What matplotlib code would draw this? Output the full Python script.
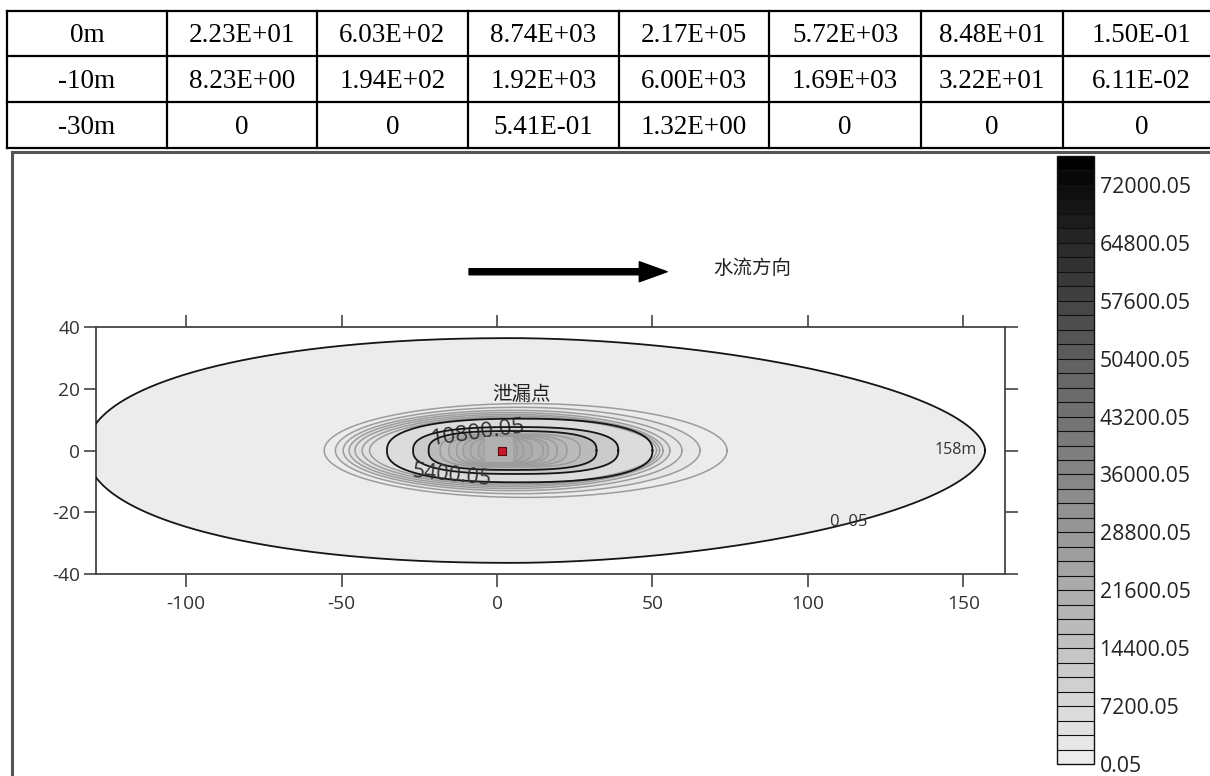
import numpy as np
import matplotlib
matplotlib.use('Agg')
import matplotlib.pyplot as plt
from matplotlib.colors import LinearSegmentedColormap, BoundaryNorm
from matplotlib.lines import Line2D
from matplotlib.patches import FancyArrowPatch, Rectangle
import matplotlib.cm as cm

plt.rcParams['axes.unicode_minus'] = False

# ---------------- table data ----------------
depth_labels = ['0m', '-10m', '-30m']
row_0m = ['2.23E+01', '6.03E+02', '8.74E+03', '2.17E+05', '5.72E+03', '8.48E+01', '1.50E-01']
row_10m = ['8.23E+00', '1.94E+02', '1.92E+03', '6.00E+03', '1.69E+03', '3.22E+01', '6.11E-02']
row_30m = ['0', '0', '5.41E-01', '1.32E+00', '0', '0', '0']

# ---------------- contour rings (outermost -> innermost), metres ----------------
ring_levels = [0.05, 1350.05, 2250.05, 3150.05, 3600.05, 4050.05, 4500.05, 4950.05,
               5400.05, 10800.05, 16200.05, 17100.05, 18000.05, 18900.05, 19800.05,
               20700.05, 21600.05, 22500.05, 23400.05]
ring_left = [-132, -55.6, -52, -49.5, -47.6, -45.7, -43.4, -41, -35.4, -27, -22,
             -18.3, -15.5, -13, -10.9, -8.5, -6, -4, -2.5]
ring_right = [157, 74, 65.3, 59.5, 55.6, 53.4, 52.3, 51.3, 50, 39, 32,
              26.7, 22.5, 19.3, 16.5, 14.8, 11.3, 8.5, 6.5]
ring_peak_x = [5, 9.2, 6.65, 5, 4, 3.85, 4.45, 5.15, 7.3, 6, 5,
               4.2, 3.5, 3.15, 2.8, 3.15, 2.65, 2.25, 2]
ring_half = [36.4, 15.2, 14, 13, 12.3, 11.7, 11.2, 10.8, 10.3, 7.6, 6.3,
             5.4, 5.0, 4.7, 4.4, 4.1, 3.8, 3.5, 3.2]
ring_n_left = [2.15, 2, 2, 2, 2, 2, 2, 2, 2.4, 2.6, 2.8, 3, 3, 3, 3, 3, 3, 3, 3]
ring_n_right = [1.8, 2, 2, 2, 2, 2, 2, 2, 2.4, 2.6, 2.8, 3, 3, 3, 3, 3, 3, 3, 3]
black_levels = [0.05, 5400.05, 10800.05, 16200.05]

source_x = [1.6]
source_y = [-0.2]
source_cell_x = [-4.0, 5.0]
source_cell_y = [-3.7, 4.4]

cbar_ticks = [0.05, 7200.05, 14400.05, 21600.05, 28800.05, 36000.05,
              43200.05, 50400.05, 57600.05, 64800.05, 72000.05]
cbar_max = 75600.05
cbar_step = 1800

W, H = 1210, 776
fig = plt.figure(figsize=(W / 100, H / 100), dpi=100)
fig.patch.set_facecolor('white')


def fx(px):
    return px / W


def fy(py):
    return 1 - py / H


# ---------------- table ----------------
col_edges = [7, 167, 317, 468, 619, 769, 921, 1063, 1220]
row_edges = [10.7, 56, 102.3, 148.3]
tfont = dict(family='Liberation Serif', fontsize=19.5, color='black')

for yy in row_edges:
    fig.add_artist(Line2D([fx(7), 1], [fy(yy)] * 2, transform=fig.transFigure,
                          color='black', lw=1.6))
for xx in col_edges[:-1]:
    fig.add_artist(Line2D([fx(xx)] * 2, [fy(row_edges[0]), fy(row_edges[-1])],
                          transform=fig.transFigure, color='black', lw=1.6))

rows = [row_0m, row_10m, row_30m]
for r, (lab, vals) in enumerate(zip(depth_labels, rows)):
    yc = (row_edges[r] + row_edges[r + 1]) / 2 + 8.5
    cells = [lab] + vals
    for c, txt in enumerate(cells):
        xc = (col_edges[c] + col_edges[c + 1]) / 2
        fig.text(fx(xc), fy(yc), txt, ha='center', va='baseline', **tfont)

# ---------------- chart frame ----------------
fig.add_artist(Line2D([fx(12), 1], [fy(152)] * 2, transform=fig.transFigure,
                      color='#555555', lw=2.2))
fig.add_artist(Line2D([fx(12)] * 2, [0, fy(152)], transform=fig.transFigure,
                      color='#555555', lw=2.2))

# ---------------- colormap ----------------
cmap = LinearSegmentedColormap.from_list(
    'g', ['#ececec', '#a0a0a0', '#606060', '#000000'])
levels = np.arange(0.05, cbar_max + 1, cbar_step)
norm = BoundaryNorm(levels, cmap.N)

# ---------------- main axes ----------------
ax = fig.add_axes([fx(96), fy(574), fx(1005) - fx(96), fy(327) - fy(574)])
ax.set_xlim(-129.0, 163.4)
ax.set_ylim(-40, 40)
ax.set_facecolor('white')

t = np.linspace(0, 2 * np.pi, 800)
ct, st = np.cos(t), np.sin(t)
for i, (lv, L, R, xc, b, nl, nr) in enumerate(zip(ring_levels, ring_left, ring_right,
                                                  ring_peak_x, ring_half,
                                                  ring_n_left, ring_n_right)):
    a = np.where(ct >= 0, R - xc, xc - L)
    n = np.where(ct >= 0, nr, nl)
    xs = xc + a * np.sign(ct) * np.abs(ct) ** (2 / n)
    ys = b * np.sign(st) * np.abs(st) ** (2 / n)
    ax.fill(xs, ys, color=cmap(norm(lv)), lw=0, zorder=1 + i * 0.01)
    if lv in black_levels:
        ax.plot(xs, ys, color='#151515', lw=1.3, zorder=3 + i * 0.01)
    else:
        ax.plot(xs, ys, color='#9c9c9c', lw=1.1, zorder=2 + i * 0.01)

ax.add_patch(Rectangle((source_cell_x[0], source_cell_y[0]),
                       source_cell_x[1] - source_cell_x[0],
                       source_cell_y[1] - source_cell_y[0],
                       facecolor='#b0b0b0', edgecolor='none', zorder=4))
ax.plot(source_x, source_y, marker='s', ms=6, color='#c8192e', mec='#5a0a0a',
        mew=0.8, zorder=5, ls='none')

lfont = dict(family='Open Sans', color='#333333')
ax.text(-14.5, -8.3, '5400.05', fontsize=15.5, rotation=-6, ha='center', va='center',
        zorder=6, **lfont)
ax.text(-6.1, 5.6, '10800.05', fontsize=16, rotation=8, ha='center', va='center',
        zorder=2.5, **lfont)
ax.text(147.6, 0.1, '158m', fontsize=11.5, ha='center', va='center', zorder=6, **lfont)
ax.text(113, -23.3, '0. 05', fontsize=12, ha='center', va='center', zorder=6, **lfont)
ax.text(7.9, 18.1, '泄漏点', fontsize=14, ha='center', va='center', zorder=6,
        family=['Noto Sans CJK SC', 'DejaVu Sans'], color='#222222')
ax.text(82, 58.9, '水流方向', fontsize=14, ha='center', va='center', clip_on=False,
        family=['Noto Sans CJK SC', 'DejaVu Sans'], color='#222222')
arr = FancyArrowPatch((-9.0, 57.9), (54.7, 57.9),
                      arrowstyle='simple,head_length=1.0,head_width=0.72,tail_width=0.22',
                      mutation_scale=20, color='black', shrinkA=0, shrinkB=0,
                      clip_on=False, zorder=6)
ax.add_patch(arr)

ax.set_xticks([-100, -50, 0, 50, 100, 150])
ax.set_yticks([-40, -20, 0, 20, 40])
ax.tick_params(direction='out', length=9, width=1.2, colors='#444444',
               top=True, right=True, labeltop=False, labelright=False)
ax.tick_params(axis='x', pad=6)
ax.tick_params(axis='y', pad=2.5)
for lab in ax.get_xticklabels() + ax.get_yticklabels():
    lab.set_family('Open Sans')
    lab.set_fontsize(13.8)
    lab.set_color('#333333')
for sp in ax.spines.values():
    sp.set_color('#444444')
    sp.set_linewidth(1.3)

# ---------------- colorbar ----------------
cax = fig.add_axes([fx(1057), fy(764), fx(1094) - fx(1057), fy(156) - fy(764)])
sm = cm.ScalarMappable(norm=norm, cmap=cmap)
cb = fig.colorbar(sm, cax=cax, ticks=cbar_ticks, drawedges=True)
cb.ax.minorticks_off()
cb.dividers.set_color('#111111')
cb.dividers.set_linewidth(0.8)
cb.outline.set_edgecolor('#111111')
cb.outline.set_linewidth(1.0)
cb.ax.set_yticklabels([f'{v:.2f}' for v in cbar_ticks])
cb.ax.tick_params(length=0, pad=4)
for lab in cb.ax.get_yticklabels():
    lab.set_family('Open Sans')
    lab.set_fontsize(15.3)
    lab.set_color('#222222')

fig.savefig('out.png', dpi=100)
